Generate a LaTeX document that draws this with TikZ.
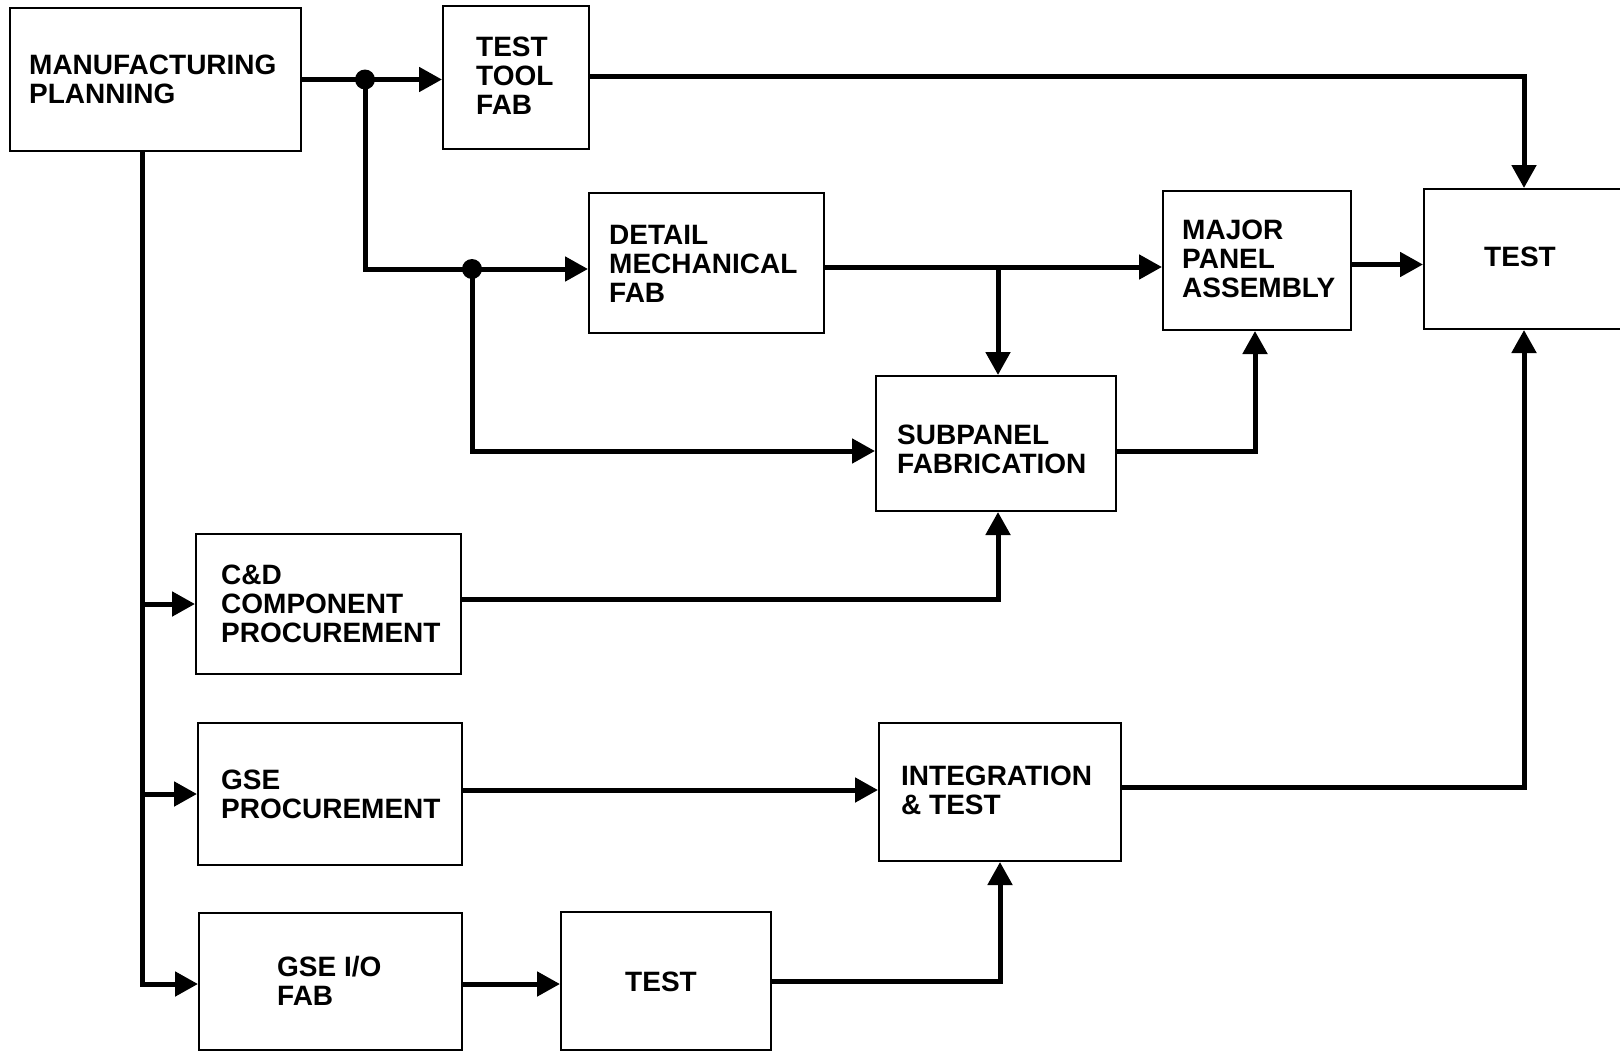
\documentclass[tikz,border=0pt]{standalone}
\usepackage{fontspec}
\setmainfont{Liberation Sans}
\usetikzlibrary{arrows.meta}
\begin{document}
\begin{tikzpicture}[x=1pt,y=-1pt,
  box/.style={draw,line width=2pt,inner sep=0pt,rectangle},
  lbl/.style={inner sep=0pt,align=left,font=\fontsize{28}{29}\selectfont\bfseries,anchor=west},
  clbl/.style={inner sep=0pt,font=\fontsize{28}{29}\selectfont\bfseries},
  conn/.style={line width=5pt},
  arr/.style={conn,-{Triangle[length=23pt,width=24pt]}},
  dotj/.style={circle,fill,inner sep=0pt,minimum size=20pt}]
\useasboundingbox[fill=white] (0,0) rectangle (1620,1052);

% boxes
\node[box,minimum width=291pt,minimum height=143pt] (mfg) at (155.5,79.5) {};
\node[box,minimum width=146pt,minimum height=143pt] (ttf) at (516,77.5) {};
\node[box,minimum width=200pt,minimum height=140pt] (test1) at (1524,259) {};
\node[box,minimum width=235pt,minimum height=140pt] (dmf) at (706.5,263) {};
\node[box,minimum width=188pt,minimum height=139pt] (mpa) at (1257,260.5) {};
\node[box,minimum width=240pt,minimum height=135pt] (sub) at (996,443.5) {};
\node[box,minimum width=265pt,minimum height=140pt] (cd) at (328.5,604) {};
\node[box,minimum width=264pt,minimum height=142pt] (gsep) at (330,794) {};
\node[box,minimum width=242pt,minimum height=138pt] (int) at (1000,792) {};
\node[box,minimum width=263pt,minimum height=137pt] (gseio) at (330.5,981.5) {};
\node[box,minimum width=210pt,minimum height=138pt] (test2) at (666,981) {};

% labels
\node[lbl] (mfgT) at (29,79) {MANUFACTURING\\PLANNING};
\node[lbl] (ttfT) at (476,75.5) {TEST\\TOOL\\FAB};
\node[clbl] (test1T) at (1520,257) {TEST};
\node[lbl] (dmfT) at (609,263.5) {DETAIL\\MECHANICAL\\FAB};
\node[lbl] (mpaT) at (1182,259) {MAJOR\\PANEL\\ASSEMBLY};
\node[lbl] (subT) at (897,449.5) {SUBPANEL\\FABRICATION};
\node[lbl] (cdT) at (221,603.4) {C\&D\\COMPONENT\\PROCUREMENT};
\node[lbl] (gsepT) at (221,794) {GSE\\PROCUREMENT};
\node[lbl] (intT) at (901,790.5) {INTEGRATION\\\&\ TEST};
\node[lbl] (gseioT) at (277,980.5) {GSE I/O\\FAB};
\node[clbl] (test2T) at (661,982) {TEST};

% junctions and routing points
\coordinate (j1) at (365,79.5);
\coordinate (j2) at (472,269);
\coordinate (b1) at (998,267);
\coordinate (t0) at ([xshift=-13.5pt]mfg.south);
\coordinate (m1) at ([yshift=-4pt]mpa.east);
\coordinate (s1) at ([yshift=-7.5pt]sub.east);
\coordinate (c1) at ([yshift=5pt]cd.east);
\coordinate (g1) at ([yshift=4pt]gsep.east);
\coordinate (i1) at ([yshift=5pt]int.east);
\coordinate (o1) at ([yshift=-2.5pt]gseio.east);
\coordinate (o2) at ([yshift=-2.5pt]gseio.west);
\coordinate (tt) at ([yshift=1.5pt]ttf.east);

% connectors
\draw[arr] (mfg.east) -- (ttf.west |- mfg.east);
\draw[arr] (tt) -| (test1.north);
\draw[arr] (j1) |- (j2) -- (dmf.west |- j2);
\draw[arr] (j2) |- ([yshift=-7.5pt]sub.west);
\draw[arr] (dmf.east |- b1) -- (mpa.west |- b1);
\draw[arr] (b1) -- (sub.north -| b1);
\draw[arr] (m1) -- (m1 -| test1.west);
\draw[arr] (s1) -| ([xshift=-2pt]mpa.south);
\draw[arr] (c1) -| ([xshift=2pt]sub.south);
\draw[arr] (g1) -- (g1 -| int.west);
\draw[arr] (i1) -| (test1.south);
\draw[arr] (o1) -- (o1 -| test2.west);
\draw[arr] (test2.east) -| (int.south);
\draw[arr] (t0) |- (o2);
\draw[arr] (t0 |- cd.west) -- (cd.west);
\draw[arr] (t0 |- gsep.west) -- (gsep.west);

\node[dotj] (d1) at (j1) {};
\node[dotj] (d2) at (j2) {};
\end{tikzpicture}
\end{document}
